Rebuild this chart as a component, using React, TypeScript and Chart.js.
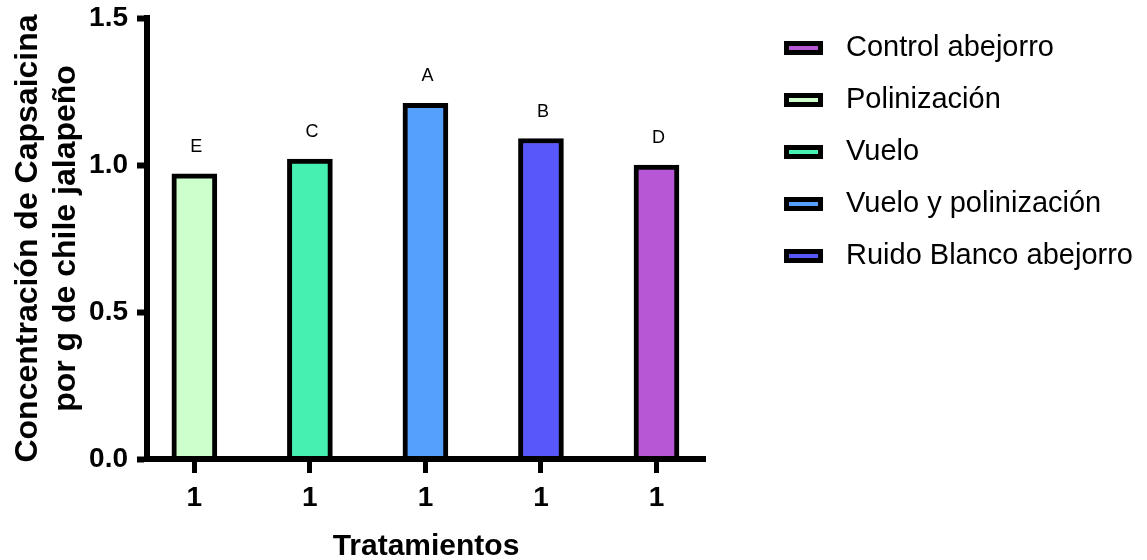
import { useEffect, useRef } from 'react';
import { Chart, registerables } from 'chart.js';

Chart.register(...registerables);

const FONT = "'Liberation Sans', Arial, Helvetica, sans-serif";

// Treatments in legend order
const treatments = ['Control abejorro', 'Polinización', 'Vuelo', 'Vuelo y polinización', 'Ruido Blanco abejorro'];
// Slot of each treatment along the x axis
const positions = [4, 0, 1, 2, 3];
// Capsaicin concentration per g of jalapeño
const values = [1.0, 0.97, 1.02, 1.21, 1.09];
// Significance groups printed above the bars
const letters = ['D', 'E', 'C', 'A', 'B'];
const colors = ['#B757D6', '#CCFFCC', '#45F0B1', '#55A0FB', '#5858FA'];

const xTickValues = [0, 1, 2, 3, 4];
const xTickLabels = ['1', '1', '1', '1', '1'];
const yTickValues = [0, 0.5, 1.0, 1.5];

const yTitle = ['Concentración de Capsaicina', 'por g de chile jalapeño'];
const xTitle = 'Tratamientos';

export default function App() {
  const ref = useRef<HTMLCanvasElement>(null);

  useEffect(() => {
    const canvas = ref.current;
    if (!canvas) return;

    const letterPlugin = {
      id: 'groupLetters',
      afterDatasetsDraw(chart: any) {
        const ctx = chart.ctx;
        ctx.save();
        ctx.font = `18px ${FONT}`;
        ctx.fillStyle = '#000';
        ctx.textAlign = 'center';
        ctx.textBaseline = 'middle';
        chart.data.datasets.forEach((_ds: any, i: number) => {
          const bar = chart.getDatasetMeta(i).data[0];
          if (bar) ctx.fillText(letters[i], bar.x + 2, bar.y - 27);
        });
        ctx.restore();
      },
    };

    const sideLegend = {
      id: 'sideLegend',
      afterDraw(chart: any) {
        const ctx = chart.ctx;
        ctx.save();
        const boxX = 784;
        const boxW = 39;
        const boxH = 14;
        const lw = 5;
        const textX = 846;
        const firstY = 48;
        const step = 52;
        chart.data.datasets.forEach((ds: any, i: number) => {
          const cy = firstY + i * step;
          ctx.fillStyle = ds.backgroundColor;
          ctx.fillRect(boxX, cy - boxH / 2, boxW, boxH);
          ctx.lineWidth = lw;
          ctx.strokeStyle = '#000';
          ctx.strokeRect(boxX + lw / 2, cy - boxH / 2 + lw / 2, boxW - lw, boxH - lw);
          ctx.fillStyle = '#000';
          ctx.font = `29px ${FONT}`;
          ctx.textAlign = 'left';
          ctx.textBaseline = 'middle';
          ctx.fillText(ds.label, textX, cy);
        });
        ctx.restore();
      },
    };

    const chart = new Chart(canvas, {
      type: 'bar',
      data: {
        datasets: treatments.map((name, i) => ({
          label: name,
          data: [{ x: positions[i], y: values[i] }],
          backgroundColor: colors[i],
          borderColor: '#000',
          borderWidth: 5,
          borderSkipped: 'start',
          barThickness: 45,
          grouped: false,
        })),
      },
      options: {
        animation: false,
        responsive: false,
        maintainAspectRatio: false,
        layout: { padding: { left: 0, top: 18, right: 442, bottom: 0 } },
        plugins: {
          legend: { display: false },
          tooltip: { enabled: false },
        },
        scales: {
          x: {
            type: 'linear',
            offset: false,
            min: -0.41,
            max: 4.42,
            afterBuildTicks: (s: any) => {
              s.ticks = xTickValues.map((v) => ({ value: v }));
            },
            afterFit: (s: any) => {
              s.height = 101;
              s.paddingLeft = 0;
              s.paddingRight = 0;
            },
            ticks: {
              autoSkip: false,
              maxRotation: 0,
              padding: 8,
              color: '#000',
              font: { family: FONT, size: 28, weight: 'bold' },
              callback: (_v: any, i: number) => xTickLabels[i],
            },
            grid: {
              offset: false,
              drawOnChartArea: false,
              tickLength: 14,
              tickWidth: 5,
              tickColor: '#000',
              z: 1,
            },
            border: { display: true, color: '#000', width: 6, z: 1 },
            title: {
              display: true,
              text: xTitle,
              color: '#000',
              font: { family: FONT, size: 30, weight: 'bold' },
              padding: { top: 0, bottom: -5 },
            },
          },
          y: {
            min: 0,
            max: 1.5,
            afterBuildTicks: (s: any) => {
              s.ticks = yTickValues.map((v) => ({ value: v }));
            },
            afterFit: (s: any) => {
              s.width = 147;
              s.paddingTop = 0;
              s.paddingBottom = 0;
            },
            ticks: {
              padding: 9,
              color: '#000',
              font: { family: FONT, size: 28, weight: 'bold' },
              callback: (v: any) => Number(v).toFixed(1),
            },
            grid: { drawOnChartArea: false, tickLength: 10, tickWidth: 6, tickColor: '#000', z: 1 },
            border: { display: true, color: '#000', width: 6, z: 1 },
            title: {
              display: true,
              text: yTitle,
              color: '#000',
              font: { family: FONT, size: 32, weight: 'bold' },
              padding: { top: 9, bottom: 0 },
            },
          },
        },
      },
      plugins: [letterPlugin, sideLegend],
    } as any);

    return () => chart.destroy();
  }, []);

  return (
    <div style={{ position: 'fixed', left: 0, top: 0, width: 1147, height: 560, background: '#fff' }}>
      <canvas ref={ref} width={1147} height={560} style={{ display: 'block' }} />
    </div>
  );
}
